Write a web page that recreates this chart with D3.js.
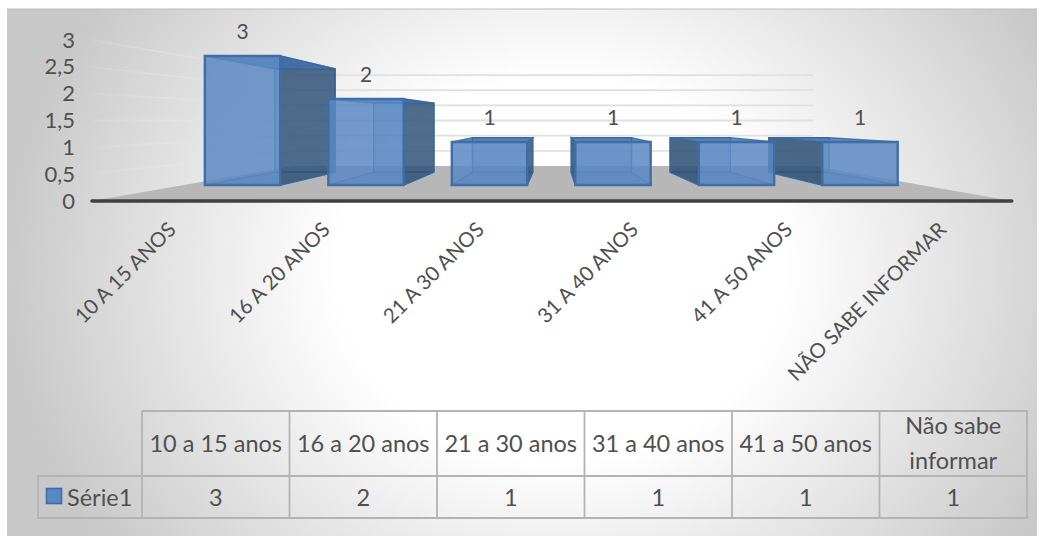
<!DOCTYPE html>
<html>
<head>
<meta charset="utf-8">
<script src="https://cdn.jsdelivr.net/npm/d3@7"></script>
<style>
html,body{margin:0;padding:0;background:#fff}
text{font-family:Lato,"Open Sans",sans-serif;fill:#505050}
</style>
</head>
<body>
<svg id="chart" width="1044" height="545"></svg>
<script>
const categories = ["10 a 15 anos","16 a 20 anos","21 a 30 anos","31 a 40 anos","41 a 50 anos","Não sabe informar"];
const axisLabels = ["10 A 15 ANOS","16 A 20 ANOS","21 A 30 ANOS","31 A 40 ANOS","41 A 50 ANOS","NÃO SABE INFORMAR"];
const values = [3,2,1,1,1,1];
const yTicks = [0,0.5,1,1.5,2,2.5,3];
const seriesName = "Série1";

// Perspective set-up: depth 1 is the plane of the bars' front faces.
const vanish = {x:555, y:120.5};
const depth = {axis:1.248, front:1, back:0.8, wall:0.705};
const x = d3.scaleBand().domain(categories).range([180.75,921.75]).paddingInner(0.39).paddingOuter(0.195);
const y = d3.scaleLinear().domain([0,3]).range([185,56]);
const px = (u,s) => vanish.x + (u-vanish.x)*s;
const py = (u,s) => vanish.y + (u-vanish.y)*s;
const pt = (u,v,s) => [px(u,s), py(y(v),s)];
const poly = pts => "M" + pts.map(p => p.join(",")).join("L") + "Z";

const svg = d3.select("#chart");
const defs = svg.append("defs");

const bg = defs.append("radialGradient").attr("id","bg").attr("gradientUnits","userSpaceOnUse")
  .attr("cx",560).attr("cy",270).attr("r",560)
  .attr("gradientTransform","translate(0,40) scale(1,0.85)");
bg.append("stop").attr("offset",0).attr("stop-color","#ffffff");
bg.append("stop").attr("offset",0.4).attr("stop-color","#ffffff");
bg.append("stop").attr("offset",1).attr("stop-color","#c8c8c8");

const wallFade = defs.append("linearGradient").attr("id","wallFade")
  .attr("gradientUnits","userSpaceOnUse").attr("x1",92).attr("x2",293).attr("y1",0).attr("y2",0);
wallFade.append("stop").attr("offset",0).attr("stop-color","#eeeeee").attr("stop-opacity",0.1);
wallFade.append("stop").attr("offset",1).attr("stop-color","#dcdcdc").attr("stop-opacity",0.9);

svg.append("rect").attr("x",7).attr("y",9).attr("width",1030).attr("height",527)
  .attr("fill","url(#bg)");
svg.append("path").attr("d","M7,9H1037").attr("stroke","#bdbdbd").attr("fill","none");

// Floor and gridlines on the back and side walls
const xL = 555-371, xR = 555+366;
svg.append("path").attr("fill","#b7b7b7")
  .attr("d", poly([[px(xL,depth.axis),py(185,depth.axis)],[px(xL,depth.wall),py(185,depth.wall)],
                   [px(xR,depth.wall),py(185,depth.wall)],[px(xR,depth.axis),py(185,depth.axis)]]));
const grid = svg.append("g").attr("fill","none").attr("stroke-width",1.8);
yTicks.filter(t => t>0).forEach(t => {
  grid.append("path").attr("stroke","#e0e0e0")
    .attr("d", d3.line()([pt(xL,t,depth.wall), pt(xR,t,depth.wall)]));
  grid.append("path").attr("stroke","url(#wallFade)")
    .attr("d", d3.line()([pt(xL,t,depth.axis), pt(xL,t,depth.wall)]));
});

// Bars: translucent boxes drawn from the outside towards the vanishing point's column
const blue = "#3f6fad", edge = "#3a689f", dark = "#2f4f73";
function drawBar(g, cat, v){
  const l = x(cat), r = l + x.bandwidth();
  const F = depth.front, B = depth.back;
  const face = (pts, fill, op) => g.append("path").attr("d",poly(pts))
    .attr("fill",fill).attr("fill-opacity",op).attr("stroke",edge).attr("stroke-width",1.4).attr("stroke-opacity",0.85);
  face([pt(l,v,B),pt(r,v,B),pt(r,0,B),pt(l,0,B)], blue, 0.3);
  face([pt(l,0,F),pt(r,0,F),pt(r,0,B),pt(l,0,B)], blue, 0.35);
  if (px(r,B) > r) face([pt(r,v,F),pt(r,v,B),pt(r,0,B),pt(r,0,F)], dark, 0.78);
  if (px(l,B) < l) face([pt(l,v,F),pt(l,v,B),pt(l,0,B),pt(l,0,F)], dark, 0.82);
  face([pt(l,v,F),pt(r,v,F),pt(r,v,B),pt(l,v,B)], blue, 0.8);
  g.append("path").attr("d",poly([pt(l,v,F),pt(r,v,F),pt(r,0,F),pt(l,0,F)]))
    .attr("fill","#5a88c2").attr("fill-opacity",0.85)
    .attr("stroke","#3d6ea8").attr("stroke-width",2.4);
}
const barOrder = [0,1,2,5,4,3];
const bars = svg.append("g");
barOrder.forEach(i => drawBar(bars, categories[i], values[i]));

// Value labels above each bar
svg.append("g").selectAll("text").data(categories).join("text")
  .attr("x", c => x(c)+x.bandwidth()/2)
  .attr("y", (c,i) => y(values[i])-25)
  .attr("dy","0.36em").attr("text-anchor","middle").attr("font-size",21).text((c,i) => values[i]);

// Value axis, on the front edge of the side wall
const yAxisScale = d3.scaleLinear().domain([0,3]).range([py(y(0),depth.axis), py(y(3),depth.axis)]);
const yAxis = svg.append("g").attr("transform","translate(81,0)")
  .call(d3.axisLeft(yAxisScale).tickValues(yTicks).tickSize(0).tickPadding(6)
    .tickFormat(d => String(d).replace(".",",")));
yAxis.select(".domain").remove();
yAxis.selectAll("text").attr("font-size",22).attr("font-family","Lato").style("fill","#505050");

// Category axis along the front of the floor
const axisY = py(y(0),depth.axis);
const xBottom = d3.scaleBand().domain(axisLabels).range([px(180.75,depth.axis), px(921.75,depth.axis)]);
const xAxis = svg.append("g").attr("transform",`translate(0,${axisY})`)
  .call(d3.axisBottom(xBottom).tickSize(0).tickPadding(0));
xAxis.select(".domain").remove();
xAxis.selectAll("text").attr("font-size",20.5).attr("font-family","Lato").style("fill","#505050")
  .attr("text-anchor","end").attr("dy",0).attr("y",0)
  .attr("transform","translate(12,30) rotate(-45)");
svg.append("path").attr("d",`M${px(xL,depth.axis)},${axisY}H${px(xR,depth.axis)}`)
  .attr("stroke","#404040").attr("stroke-width",3.5).attr("stroke-linecap","round");

// Data table beneath the plot
const tableX = d3.scaleBand().domain(categories).range([142,1027]);
const rowTop = 411, rowMid = 476, rowBottom = 518, keyLeft = 38;
const table = svg.append("g").attr("fill","none").attr("stroke","#b3b3b3").attr("stroke-width",1.8);
table.append("path").attr("d",`M142,${rowTop}H1027V${rowBottom}H${keyLeft}V${rowMid}H1027M142,${rowTop}V${rowBottom}`);
categories.forEach((c,i) => {
  if (i>0) table.append("path").attr("d",`M${tableX(c)},${rowTop}V${rowBottom}`);
});
const headFont = 23.5;
categories.forEach((c,i) => {
  const cx = tableX(c)+tableX.bandwidth()/2;
  if (c.length > 14) {
    const words = ["Não sabe","informar"];
    words.forEach((w,k) => svg.append("text").attr("x",cx).attr("y",rowTop+15+k*35).attr("dy","0.36em")
      .attr("text-anchor","middle").attr("font-size",headFont).text(w));
  } else {
    svg.append("text").attr("x",cx).attr("y",(rowTop+rowMid)/2).attr("dy","0.36em")
      .attr("text-anchor","middle").attr("font-size",headFont).text(c);
  }
  svg.append("text").attr("x",cx).attr("y",(rowMid+rowBottom)/2+1).attr("dy","0.36em")
    .attr("text-anchor","middle").attr("font-size",headFont).text(values[i]);
});
svg.append("rect").attr("x",46.5).attr("y",488.5).attr("width",15).attr("height",15)
  .attr("fill","#5a88c2").attr("stroke","#3d6ea8").attr("stroke-width",1.6);
svg.append("text").attr("x",67).attr("y",(rowMid+rowBottom)/2+1).attr("dy","0.36em")
  .attr("font-size",headFont).text(seriesName);
</script>
</body>
</html>
